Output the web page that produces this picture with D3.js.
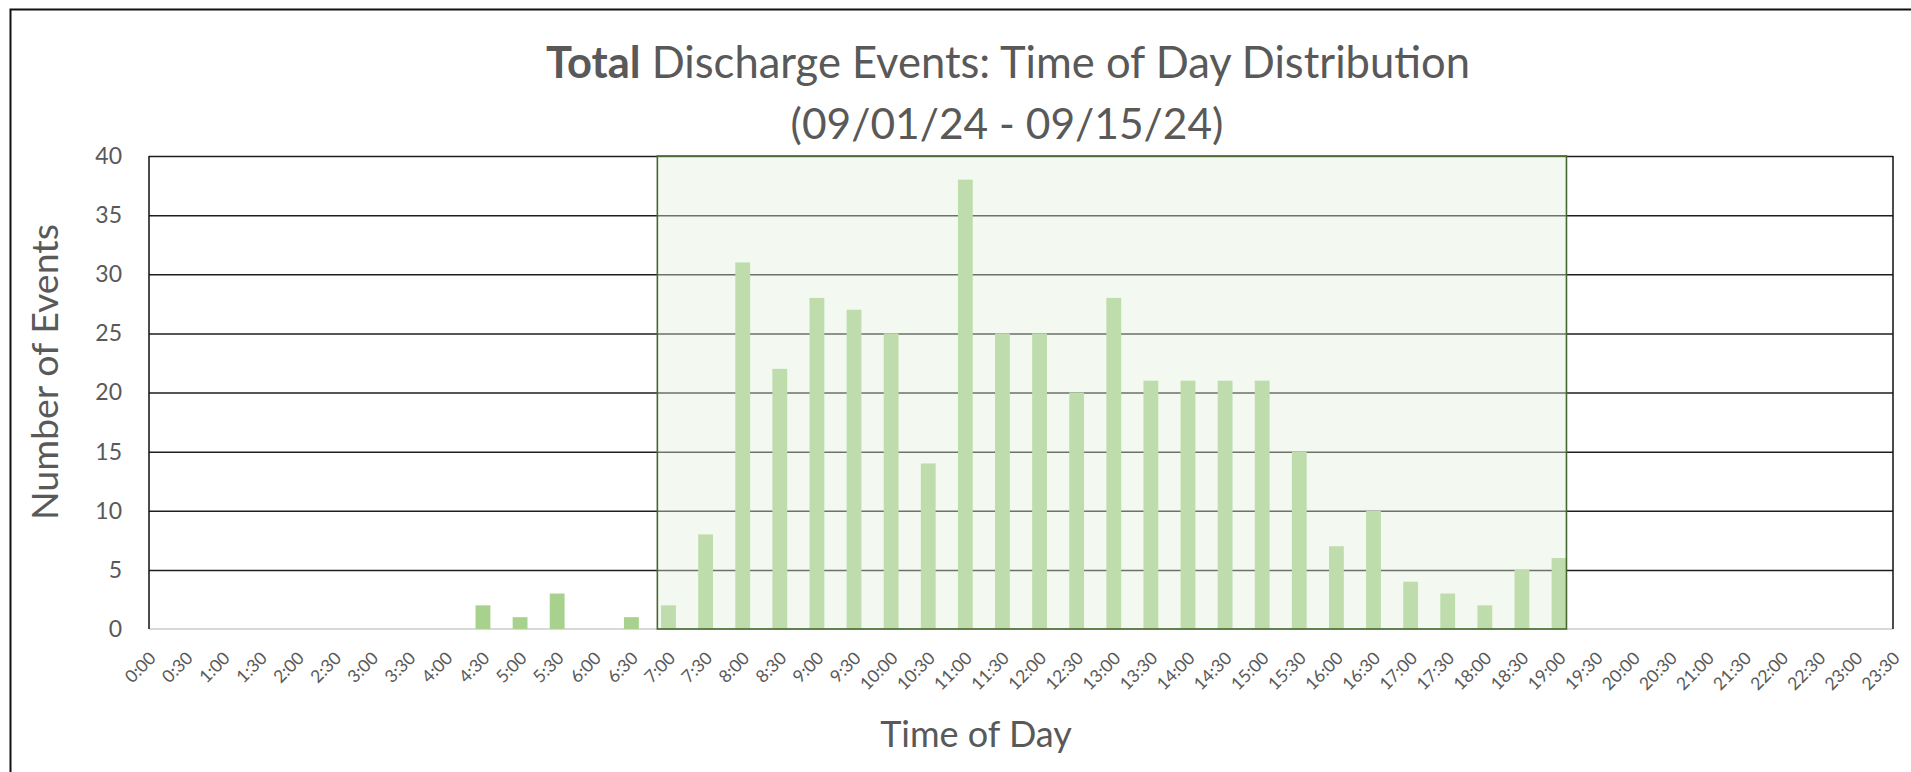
<!DOCTYPE html>
<html>
<head>
<meta charset="utf-8">
<script src="https://cdn.jsdelivr.net/npm/d3@7/dist/d3.min.js"></script>
<style>
  html, body { margin: 0; padding: 0; background: #fff; }
  svg { display: block; }
  text { font-family: Lato, "Open Sans", sans-serif; fill: #595959; }
</style>
</head>
<body>
<svg id="chart" width="1911" height="772"></svg>
<script>
// ---- data ----
const categories = ["0:00","0:30","1:00","1:30","2:00","2:30","3:00","3:30","4:00","4:30",
  "5:00","5:30","6:00","6:30","7:00","7:30","8:00","8:30","9:00","9:30",
  "10:00","10:30","11:00","11:30","12:00","12:30","13:00","13:30","14:00","14:30",
  "15:00","15:30","16:00","16:30","17:00","17:30","18:00","18:30","19:00","19:30",
  "20:00","20:30","21:00","21:30","22:00","22:30","23:00","23:30"];
const events = [0,0,0,0,0,0,0,0,0,2,
  1,3,0,1,2,8,31,22,28,27,
  25,14,38,25,25,20,28,21,21,21,
  21,15,7,10,4,3,2,5,6,0,
  0,0,0,0,0,0,0,0];
const yTicks = [0,5,10,15,20,25,30,35,40];
const shadeRange = ["7:00","19:00"];
const titleBold = "Total";
const titleRest = " Discharge Events: Time of Day Distribution";
const subtitle = "(09/01/24 - 09/15/24)";
const yTitle = "Number of Events";
const xTitle = "Time of Day";

// ---- layout ----
const svg = d3.select("#chart");
const L = 149, R = 1893, T = 156, B = 629;

svg.append("rect").attr("x",0).attr("y",0).attr("width",1911).attr("height",772).attr("fill","#fff");
// outer chart border (extends past canvas on right/bottom)
svg.append("rect").attr("x",10.5).attr("y",9.5).attr("width",2000).attr("height",1000)
  .attr("fill","none").attr("stroke","#111").attr("stroke-width",2);

const x = d3.scalePoint().domain(categories).range([L, R]).padding(0);
const y = d3.scaleLinear().domain([0, 40]).range([B, T]);
const barW = x.step() * 0.4;

// gridlines + y labels
const yAxis = d3.axisLeft(y).tickValues(yTicks).tickSize(-(R - L)).tickPadding(27);
const gy = svg.append("g").attr("transform", `translate(${L},0)`).call(yAxis);
gy.select(".domain").remove();
gy.selectAll(".tick line").attr("stroke", "#1e1e1e").attr("stroke-width", 1.5)
  .attr("opacity", d => d === 0 ? 0 : 1);
gy.selectAll(".tick text").attr("font-size", 23).attr("fill", "#595959")
  .style("font-family", "Lato, sans-serif");

// bottom axis line (light gray)
svg.append("line").attr("x1", L).attr("x2", R).attr("y1", B).attr("y2", B)
  .attr("stroke", "#d9d9d9").attr("stroke-width", 2);

// bars
svg.append("g").selectAll("rect").data(categories).join("rect")
  .attr("x", d => x(d) - barW / 2)
  .attr("y", (d, i) => y(events[i]))
  .attr("width", barW)
  .attr("height", (d, i) => y(0) - y(events[i]))
  .attr("fill", "#a9d18e");

// shaded daytime window
const sx0 = x(shadeRange[0]) - x.step() * 0.3;
const sx1 = x(shadeRange[1]) + barW / 2;
svg.append("rect").attr("x", sx0).attr("y", T).attr("width", sx1 - sx0).attr("height", B - T)
  .attr("fill", "#e2efda").attr("fill-opacity", 0.4);
svg.append("rect").attr("x", sx0).attr("y", T).attr("width", sx1 - sx0).attr("height", B - T)
  .attr("fill", "none").attr("stroke", "#46682f").attr("stroke-width", 1.6);

// left / right frame lines
svg.append("line").attr("x1", L).attr("x2", L).attr("y1", T).attr("y2", B)
  .attr("stroke", "#111").attr("stroke-width", 1.5);
svg.append("line").attr("x1", R).attr("x2", R).attr("y1", T).attr("y2", B)
  .attr("stroke", "#111").attr("stroke-width", 1.5);

// x tick labels
const xAxis = d3.axisBottom(x).tickSize(0).tickPadding(0);
const gx = svg.append("g").attr("transform", `translate(0,${B})`).call(xAxis);
gx.select(".domain").remove();
gx.selectAll(".tick text")
  .attr("text-anchor", "end")
  .attr("transform", "translate(3,26) rotate(-45)")
  .attr("y", 0).attr("dy", "0.35em")
  .attr("font-size", 17.5).attr("fill", "#595959")
  .style("font-family", "Lato, sans-serif");

// titles
const t1 = svg.append("text").attr("x", 1008).attr("y", 78).attr("text-anchor", "middle")
  .attr("font-size", 43.5);
t1.append("tspan").attr("font-weight", "bold").text(titleBold);
t1.append("tspan").text(titleRest);
svg.append("text").attr("x", 1007).attr("y", 139).attr("text-anchor", "middle")
  .attr("font-size", 42.5).text(subtitle);

svg.append("text").attr("transform", "translate(45,372) rotate(-90)")
  .attr("text-anchor", "middle").attr("dy", "0.35em").attr("font-size", 37.5).text(yTitle);
svg.append("text").attr("x", 976).attr("y", 747).attr("text-anchor", "middle")
  .attr("font-size", 36).text(xTitle);
</script>
</body>
</html>
